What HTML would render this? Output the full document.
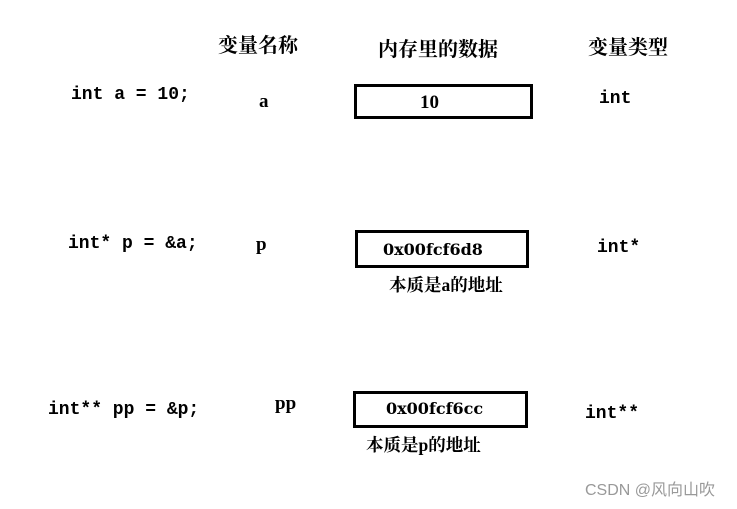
<!DOCTYPE html>
<html><head><meta charset="utf-8"><style>
body{margin:0;width:737px;height:509px;background:#fff;position:relative;overflow:hidden;color:#000}
.t{position:absolute;white-space:nowrap;line-height:20px;font-weight:bold}
.m{font-family:"Liberation Mono","Noto Serif CJK SC",monospace;font-size:18px}
.s{font-family:"Liberation Serif","Noto Serif CJK SC",serif;font-size:19px}
.h{font-family:"DejaVu Serif","Liberation Serif",serif;font-size:16px;font-weight:bold}
.c{font-family:"Liberation Serif","Noto Serif CJK SC",serif;font-size:20px}
.b{position:absolute;border:3px solid #000;box-sizing:border-box}
</style></head><body>
<div class="t c" style="left:218px;top:36px">变量名称</div>
<div class="t c" style="left:378px;top:40px">内存里的数据</div>
<div class="t c" style="left:588px;top:38px">变量类型</div>

<div class="t m" style="left:71px;top:85px">int a = 10;</div>
<div class="t s" style="left:259px;top:92px">a</div>
<div class="b" style="left:354px;top:84px;width:179px;height:35px"></div>
<div class="t s" style="left:420px;top:93px">10</div>
<div class="t m" style="left:599px;top:89px">int</div>

<div class="t m" style="left:68px;top:234px">int* p = &amp;a;</div>
<div class="t s" style="left:256px;top:235px">p</div>
<div class="b" style="left:355px;top:230px;width:174px;height:38px"></div>
<div class="t h" style="left:383px;top:240px">0x00fcf6d8</div>
<div class="t c" style="left:389px;top:275px;font-size:17.5px">本质是a的地址</div>
<div class="t m" style="left:597px;top:238px">int*</div>

<div class="t m" style="left:48px;top:400px">int** pp = &amp;p;</div>
<div class="t s" style="left:275px;top:394px">pp</div>
<div class="b" style="left:353px;top:391px;width:175px;height:37px"></div>
<div class="t h" style="left:386px;top:399px">0x00fcf6cc</div>
<div class="t c" style="left:366px;top:435px;font-size:17.5px">本质是p的地址</div>
<div class="t m" style="left:585px;top:404px">int**</div>

<div class="t" style="left:585px;top:481px;font-weight:normal;font-family:'Liberation Sans','Noto Sans CJK SC',sans-serif;font-size:16px;color:#999">CSDN @风向山吹</div>
</body></html>
